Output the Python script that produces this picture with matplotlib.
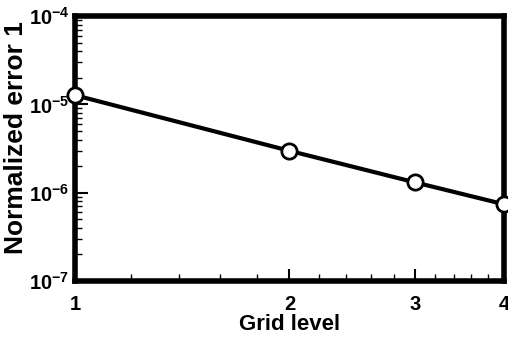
import matplotlib
matplotlib.use("Agg")
import matplotlib.pyplot as plt
from matplotlib.ticker import FixedLocator, NullFormatter, LogLocator, FixedFormatter

grid_level = [1, 2, 3, 4]
norm_error = [1.27e-5, 2.98e-6, 1.31e-6, 7.4e-7]
x_ticks = [1, 2, 3, 4]
x_minor = [1.2, 1.4, 1.6, 1.8, 2.2, 2.4, 2.6, 2.8, 3.2, 3.4, 3.6, 3.8]
y_ticks = [1e-7, 1e-6, 1e-5, 1e-4]
y_labels = [r"$\mathbf{10^{-7}}$", r"$\mathbf{10^{-6}}$", r"$\mathbf{10^{-5}}$", r"$\mathbf{10^{-4}}$"]

plt.rcParams['font.family'] = ['Liberation Sans', 'DejaVu Sans']
plt.rcParams['mathtext.fontset'] = 'custom'
plt.rcParams['mathtext.rm'] = 'Liberation Sans:bold'
plt.rcParams['mathtext.bf'] = 'Liberation Sans:bold'
plt.rcParams['mathtext.default'] = 'bf'

fig = plt.figure(figsize=(5.08, 3.37), dpi=100)
ax = fig.add_axes([0.1476, 0.166, 0.8445, 0.7865])
ax.set_xscale('log')
ax.set_yscale('log')
ax.plot(grid_level, norm_error, color='black', lw=3, marker='o', ms=11,
        mfc='white', mec='black', mew=2, clip_on=False, zorder=5)
ax.set_xlim(1, 4)
ax.set_ylim(1e-7, 1e-4)

ax.xaxis.set_major_locator(FixedLocator(x_ticks))
ax.xaxis.set_major_formatter(FixedFormatter([str(v) for v in x_ticks]))
ax.xaxis.set_minor_locator(FixedLocator(x_minor))
ax.xaxis.set_minor_formatter(NullFormatter())
ax.yaxis.set_major_locator(FixedLocator(y_ticks))
ax.yaxis.set_major_formatter(FixedFormatter(y_labels))
ax.yaxis.set_minor_locator(LogLocator(base=10, subs=range(2, 10)))
ax.yaxis.set_minor_formatter(NullFormatter())

ax.tick_params(which='major', direction='in', length=9, width=1.5, labelsize=14.5)
ax.tick_params(axis='x', which='major', pad=10)
ax.tick_params(axis='y', which='major', pad=4)
ax.tick_params(which='minor', direction='in', length=5, width=1)
for lab in ax.get_xticklabels() + ax.get_yticklabels():
    lab.set_fontweight('bold')
for s in ax.spines.values():
    s.set_linewidth(4)

ax.set_xlabel('Grid level', fontsize=16, fontweight='bold', labelpad=0)
ax.set_ylabel('Normalized error 1', fontsize=19, fontweight='bold')
ax.yaxis.set_label_coords(-0.11, 0.54)

fig.savefig('out.png', dpi=100)
